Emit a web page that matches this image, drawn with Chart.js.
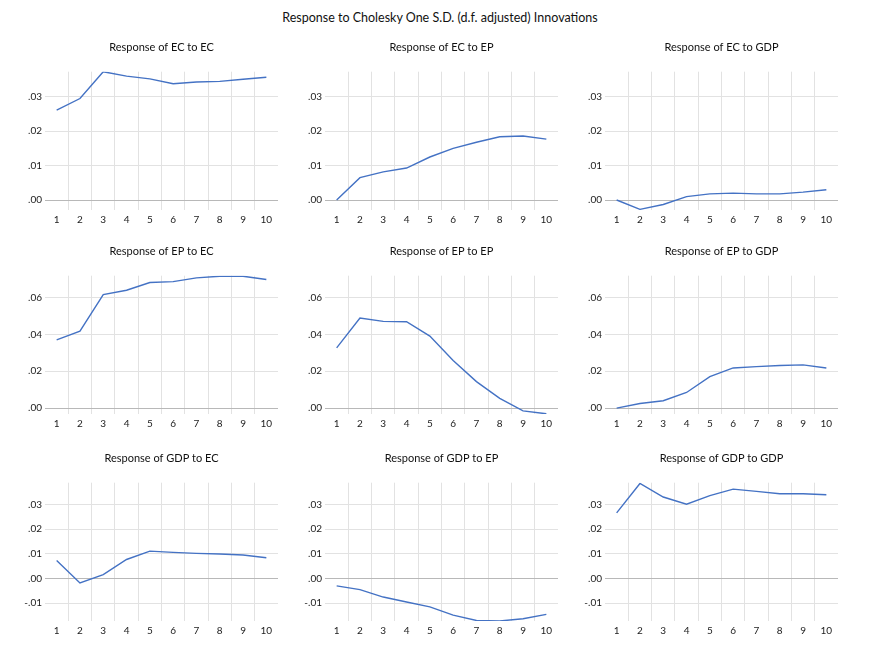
<!DOCTYPE html>
<html><head><meta charset="utf-8">
<script src="https://cdn.jsdelivr.net/npm/chart.js@4.4.1/dist/chart.umd.min.js"></script>
<style>
html,body{margin:0;padding:0;background:#fff;width:870px;height:659px;overflow:hidden}
#main{position:absolute;left:0;width:880px;top:10px;text-align:center;font-family:Lato,sans-serif;font-size:12.5px;color:#111}
canvas.cell{position:absolute}
</style></head><body>
<div id="main">Response to Cholesky One S.D. (d.f. adjusted) Innovations</div>
<script>
const periods = ['1','2','3','4','5','6','7','8','9','10'];

const ecToEc   = [0.0261, 0.0295, 0.0373, 0.0360, 0.0352, 0.0338, 0.0343, 0.0345, 0.0351, 0.0357];
const ecToEp   = [0.0000, 0.0065, 0.0082, 0.0093, 0.0125, 0.0150, 0.0168, 0.0184, 0.0186, 0.0177];
const ecToGdp  = [0.0000, -0.0027, -0.0013, 0.0010, 0.0018, 0.0020, 0.0018, 0.0018, 0.0023, 0.0030];
const epToEc   = [0.0371, 0.0418, 0.0616, 0.0640, 0.0682, 0.0687, 0.0707, 0.0716, 0.0716, 0.0698];
const epToEp   = [0.0327, 0.0489, 0.0471, 0.0469, 0.0391, 0.0258, 0.0144, 0.0053, -0.0015, -0.0031];
const epToGdp  = [0.0000, 0.0025, 0.0040, 0.0085, 0.0171, 0.0218, 0.0225, 0.0231, 0.0235, 0.0218];
const gdpToEc  = [0.0073, -0.0018, 0.0016, 0.0077, 0.0111, 0.0106, 0.0102, 0.0099, 0.0095, 0.0084];
const gdpToEp  = [-0.0030, -0.0045, -0.0075, -0.0095, -0.0115, -0.0148, -0.0170, -0.0172, -0.0163, -0.0145];
const gdpToGdp = [0.0266, 0.0385, 0.0330, 0.0301, 0.0336, 0.0362, 0.0353, 0.0343, 0.0343, 0.0339];

const panelTitles = [
  'Response of EC to EC','Response of EC to EP','Response of EC to GDP',
  'Response of EP to EC','Response of EP to EP','Response of EP to GDP',
  'Response of GDP to EC','Response of GDP to EP','Response of GDP to GDP'
];
const panelSeries = [ecToEc, ecToEp, ecToGdp, epToEc, epToEp, epToGdp, gdpToEc, gdpToEp, gdpToGdp];

const rowMin = [-0.0029, -0.0032, -0.0172];
const rowMax = [0.0373, 0.0719, 0.0388];
const row1Ticks = [0, 0.01, 0.02, 0.03];
const row2Ticks = [0, 0.02, 0.04, 0.06];
const row3Ticks = [-0.01, 0, 0.01, 0.02, 0.03];
const rowTicks = [row1Ticks, row2Ticks, row3Ticks];

const cellLeft = [0, 280, 560];
const cellTop = [30, 234.3, 440.6];
const FONT = 'Lato, sans-serif';

function fmt(v){
  let s = Number(v).toFixed(2);
  if (s === '-0.00') s = '0.00';
  return s.replace('0.', '.');
}

for (let i = 0; i < 9; i++) {
  const r = Math.floor(i / 3), c = i % 3;
  const cv = document.createElement('canvas');
  cv.className = 'cell';
  cv.width = 280; cv.height = 200;
  cv.style.left = cellLeft[c] + 'px';
  cv.style.top = cellTop[r] + 'px';
  cv.style.width = '280px'; cv.style.height = '200px';
  document.body.appendChild(cv);
  new Chart(cv.getContext('2d'), {
    type: 'line',
    data: { labels: periods, datasets: [{ data: panelSeries[i], borderColor: '#4472c4', borderWidth: 1.4, pointRadius: 0, tension: 0, fill: false }] },
    options: {
      responsive: false, animation: false,
      layout: { padding: { left: 0, right: 2, top: 0, bottom: 0 } },
      plugins: {
        legend: { display: false }, tooltip: { enabled: false },
        title: { display: true, fullSize: false, text: panelTitles[i], color: '#111', font: { family: FONT, size: 11, weight: 'normal' }, padding: { top: 11, bottom: 17.5 } }
      },
      scales: {
        x: {
          type: 'category', offset: true,
          grid: { offset: true, drawTicks: false, lineWidth: 1,
            color: (ctx) => (ctx.index === 0 || ctx.index === undefined) ? 'rgba(0,0,0,0)' : '#e2e2e2' },
          border: { display: false },
          ticks: { padding: 4, autoSkip: false, maxRotation: 0, color: '#222', font: { family: FONT, size: 10 } },
          afterFit: (s) => { s.height = 20; }
        },
        y: {
          min: rowMin[r], max: rowMax[r],
          grid: { drawTicks: false, lineWidth: 1,
            color: (ctx) => (ctx.tick && ctx.tick.value === 0) ? '#b8b8b8' : '#e2e2e2' },
          border: { display: false },
          ticks: { padding: 3, color: '#222', font: { family: FONT, size: 10 }, callback: (v) => fmt(v) },
          afterBuildTicks: (s) => { s.ticks = rowTicks[r].map(v => ({ value: v })); },
          afterFit: (s) => { s.width = 45; }
        }
      }
    }
  });
}
</script>
</body></html>
